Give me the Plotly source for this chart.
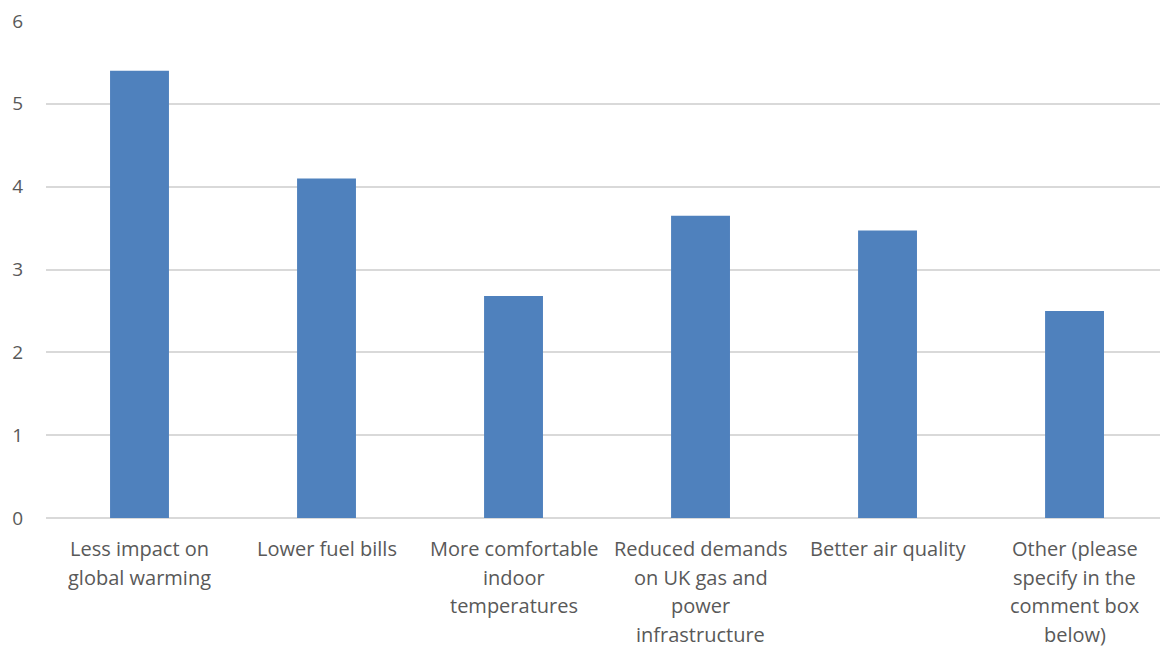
import plotly.graph_objects as go

# Survey responses: perceived benefits, mean ranking score
categories = [
    "Less impact on global warming",
    "Lower fuel bills",
    "More comfortable indoor temperatures",
    "Reduced demands on UK gas and power infrastructure",
    "Better air quality",
    "Other (please specify in the comment box below)",
]
label_lines = [
    ["Less impact on", "global warming"],
    ["Lower fuel bills"],
    ["More comfortable", "indoor", "temperatures"],
    ["Reduced demands", "on UK gas and", "power", "infrastructure"],
    ["Better air quality"],
    ["Other (please", "specify in the", "comment box", "below)"],
]
scores = [5.4, 4.1, 2.68, 3.65, 3.47, 2.5]
y_ticks = [0, 1, 2, 3, 4, 5, 6]

FONT = "Open Sans"
TEXT_COLOR = "#595959"
GRID_COLOR = "#d9d9d9"
LINE_STEP = 28.5

fig = go.Figure(
    go.Bar(
        x=list(range(len(categories))),
        y=scores,
        marker=dict(color="#4f81bd", line=dict(width=0)),
        width=0.315,
        hovertext=categories,
    )
)

# Multi-line category labels drawn beneath each bar
annotations = []
for i, lines in enumerate(label_lines):
    for j, line in enumerate(lines):
        annotations.append(
            dict(
                x=i, xref="x", y=0, yref="paper",
                text=line, showarrow=False,
                xanchor="center", yanchor="top",
                height=27, valign="middle", borderpad=0,
                yshift=-(16 + j * LINE_STEP),
                font=dict(family=FONT, size=20, color=TEXT_COLOR),
            )
        )

fig.update_layout(
    width=1160, height=648,
    margin=dict(l=46, r=0, t=21, b=130),
    paper_bgcolor="white", plot_bgcolor="white",
    showlegend=False,
    annotations=annotations,
    xaxis=dict(
        range=[-0.5, 5.457],
        showticklabels=False, showgrid=False, zeroline=False,
        showline=False, ticks="", fixedrange=True,
    ),
    yaxis=dict(
        range=[0, 6], tickvals=y_ticks,
        showgrid=True, gridcolor=GRID_COLOR, gridwidth=1.5,
        zeroline=True, zerolinecolor=GRID_COLOR, zerolinewidth=1.5,
        showline=False, ticks="",
        ticklabelstandoff=22,
        tickfont=dict(family=FONT, size=19, color=TEXT_COLOR),
        fixedrange=True,
    ),
)

fig.write_html("out.html")
